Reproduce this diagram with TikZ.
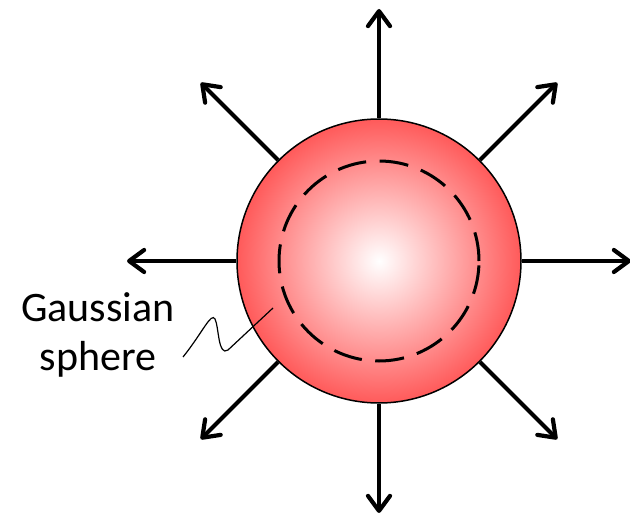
\documentclass[tikz,border=0pt]{standalone}
\usepackage{fontspec}
\setmainfont{Carlito}
\usetikzlibrary{arrows.meta,calc}
\definecolor{sphred}{RGB}{255,90,90}
\pgfdeclareradialshading{sph}{\pgfpoint{0bp}{0bp}}{color(0bp)=(white); color(25bp)=(sphred); color(50bp)=(sphred)}
\begin{document}
\begin{tikzpicture}[x=1pt,y=1pt,
  sphere/.style={circle,draw=black,line width=1.5pt,shading=sph,minimum size=284pt,inner sep=0pt},
  ray/.style={line width=4.2pt,-{Straight Barb[length=15pt,width=22pt,line cap=round,line join=round]}},
  inner/.style={draw=black,line width=3pt,dash pattern=on 29pt off 13.5pt},
  lbl/.style={align=center,font=\fontsize{42}{49}\selectfont,inner sep=0pt},
  wiggle/.style={line width=1.2pt}]
\useasboundingbox (0,0) rectangle (630,515);
\node[sphere] (s) at (379,254) {};
\draw[inner] (s.center) circle[radius=100];
\foreach \a in {0,45,...,315}{
  \coordinate (e\a) at ($(s.center)+(\a:252)$);
  \draw[ray] (s.\a) -- (e\a);
}
\node[lbl] (t) at (98,180) {Gaussian\\sphere};
\coordinate (w0) at (183,158);
\coordinate (w1) at (273,207);
\draw[wiggle] (w0) .. controls (203,183) and (211,203) .. (215,196)
  .. controls (219,188) and (218,158) .. (228,165) -- (w1);
\end{tikzpicture}
\end{document}
